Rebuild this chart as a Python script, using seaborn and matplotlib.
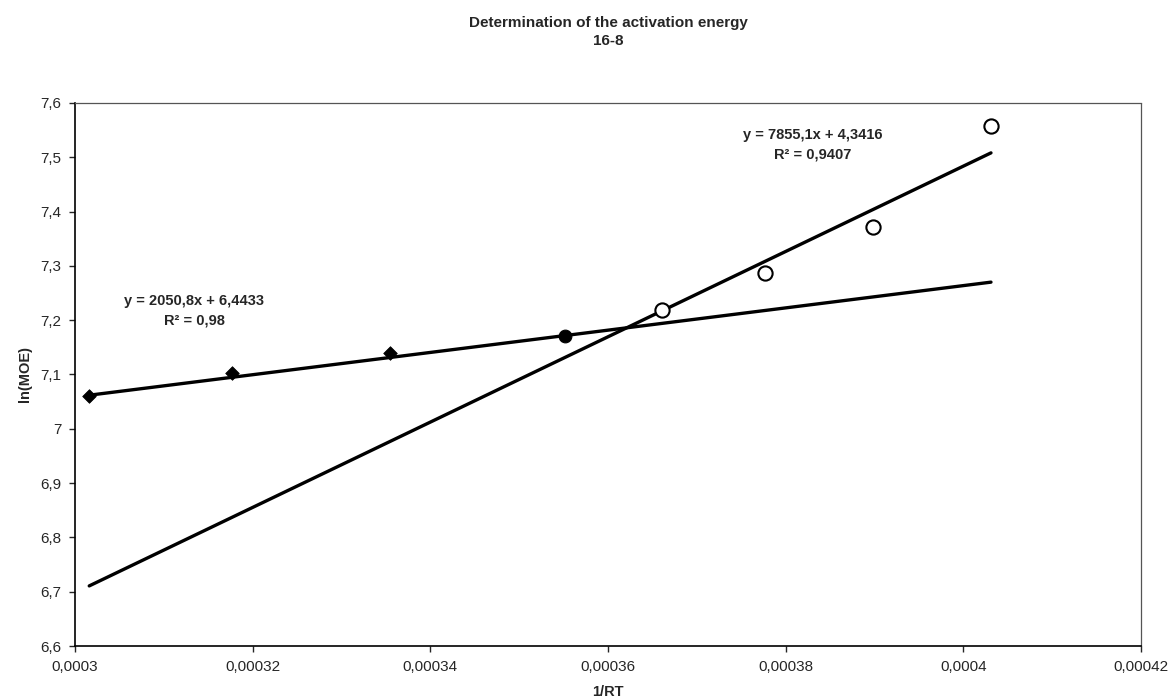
# Determination of the activation energy (16-8)

import numpy as np
import pandas as pd
import matplotlib
matplotlib.use("Agg")
import matplotlib.pyplot as plt
from matplotlib.ticker import FuncFormatter, MultipleLocator
import seaborn as sns

sns.set_style("white")
plt.rcParams['font.family'] = ['Liberation Sans', 'DejaVu Sans']

# Data
# low-temperature range (diamonds)
x_low = [0.0003016, 0.0003177, 0.0003355]
y_low = [7.060, 7.102, 7.140]
# shared point (filled circle)
x_mid = [0.0003552]
y_mid = [7.171]
# high range (open circles)
x_high = [0.0003661, 0.0003777, 0.0003898, 0.0004031]
y_high = [7.218, 7.286, 7.372, 7.558]

# trendlines as written on the chart
fit_low = (2050.8, 6.4433, "y = 2050,8x + 6,4433\nR² = 0,98")
fit_high = (7855.1, 4.3416, "y = 7855,1x + 4,3416\nR² = 0,9407")

fig = plt.figure(figsize=(11.74, 7.0), dpi=100)
ax = fig.add_axes([0.0639, 0.0771, 0.9081, 0.7759])

# trendlines over the range of all points
x_all = x_low + x_mid + x_high
x_ends = np.array([min(x_all), max(x_all)])
for slope, icpt, _ in (fit_low, fit_high):
    sns.lineplot(x=x_ends, y=icpt + slope * x_ends, color='black', lw=2.4, ax=ax)

sns.scatterplot(x=x_low, y=y_low, marker='D', s=48, color='black',
                edgecolor='black', zorder=3, ax=ax)
sns.scatterplot(x=x_mid, y=y_mid, marker='o', s=85, color='black',
                edgecolor='black', zorder=3, ax=ax)
sns.scatterplot(x=x_high, y=y_high, marker='o', s=105, facecolor='white',
                edgecolor='black', linewidth=1.5, zorder=3, ax=ax)

ax.text(0.1116, 0.617, fit_low[2], transform=ax.transAxes, ha='center',
        va='center', fontsize=10.5, fontweight='bold', linespacing=1.45)
ax.text(0.692, 0.923, fit_high[2], transform=ax.transAxes, ha='center',
        va='center', fontsize=10.5, fontweight='bold', linespacing=1.45)

ax.set_xlim(0.0003, 0.00042)
ax.set_ylim(6.6, 7.6)
ax.xaxis.set_major_locator(MultipleLocator(0.00002))
ax.yaxis.set_major_locator(MultipleLocator(0.1))
comma = FuncFormatter(lambda v, p: f"{v:.10g}".replace('.', ','))
ax.xaxis.set_major_formatter(comma)
ax.yaxis.set_major_formatter(comma)
ax.tick_params(axis='both', direction='out', length=4, width=1, labelsize=11,
               bottom=True, left=True, pad=6)

for side in ('left', 'bottom'):
    ax.spines[side].set_color('black')
    ax.spines[side].set_linewidth(1.2)
for side in ('top', 'right'):
    ax.spines[side].set_color('#555555')
    ax.spines[side].set_linewidth(0.9)
    ax.spines[side].set_linestyle((0, (2, 1)))

ax.set_xlabel('1/RT', fontsize=10.5, fontweight='bold', labelpad=8)
ax.set_ylabel('ln(MOE)', fontsize=10.5, fontweight='bold', labelpad=6)
ax.set_title('Determination of the activation energy\n16-8', fontsize=11,
             fontweight='bold', pad=42, linespacing=1.3)

fig.savefig('out.png', dpi=100, facecolor='white')
